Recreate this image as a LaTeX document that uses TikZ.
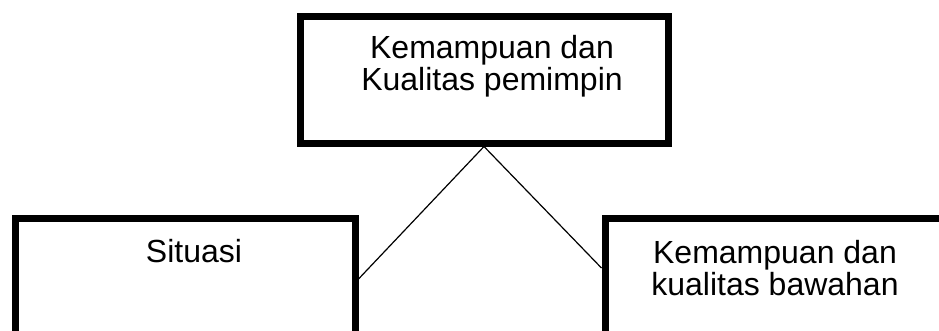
\documentclass[tikz,border=0pt]{standalone}
\usepackage{fontspec}
\setmainfont{Liberation Sans}
\begin{document}
\begin{tikzpicture}[x=1pt, y=-1pt,
		kotak/.style={draw, line width=7pt, inner sep=0pt},
		teks/.style={anchor=north, inner sep=0pt, align=center, font=\fontsize{32}{32}\selectfont},
		garis/.style={line width=1.2pt}]
			\useasboundingbox (0,0) rectangle (939,330);
			\clip (0,0) rectangle (939,330);
			\node[kotak, minimum width=368pt, minimum height=127pt] (pemimpin) at (484,79.5) {};
			\node[kotak, minimum width=340pt, minimum height=122pt] (situasi) at (185,279) {};
			\node[kotak, minimum width=340pt, minimum height=122pt] (bawahan) at (775,279) {};
			\node[teks] (tpemimpin) at (492,35) {Kemampuan dan\\Kualitas pemimpin};
			\node[teks] (tsituasi) at (194,239) {Situasi};
			\node[teks] (tbawahan) at (775,240) {Kemampuan dan\\kualitas bawahan};
			\draw[garis] (pemimpin.south) -- (situasi.east);
			\draw[garis] (pemimpin.south) -- ([yshift=11pt]bawahan.west);
	\end{tikzpicture}
\end{document}
